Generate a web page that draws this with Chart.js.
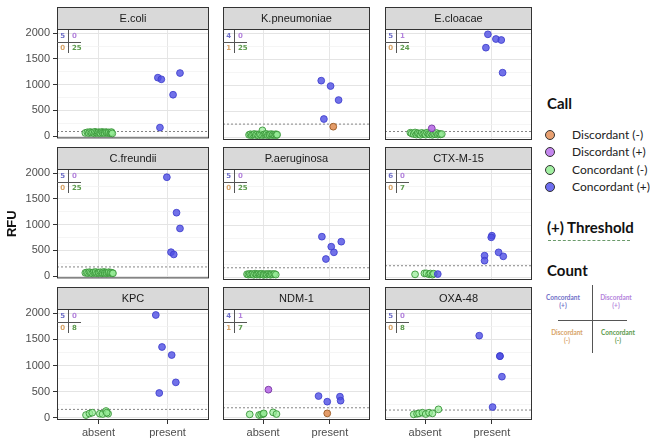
<!DOCTYPE html>
<html>
<head>
<meta charset="utf-8">
<script src="https://cdn.jsdelivr.net/npm/chart.js@4.4.1/dist/chart.umd.min.js"></script>
<style>
  body { margin: 0; background: #fff; }
  #wrap { position: relative; width: 650px; height: 445px; overflow: hidden; background: #fff; font-family: Lato, "Noto Sans", sans-serif; }
  #wrap canvas { position: absolute; }
  .lg { position: absolute; white-space: nowrap; }
  .lg-h { font-weight: bold; font-size: 15px; color: #111; line-height: 18px; }
  .lg-t { font-size: 12px; color: #222; line-height: 14px; }
  .dot { position: absolute; width: 8px; height: 8px; border-radius: 50%; border: 1px solid #333; }
  .cnt { position: absolute; font-size: 6.5px; font-weight: bold; text-align: center; line-height: 8px; width: 40px; }
</style>
</head>
<body>
<div id="wrap"></div>
<script>
// Facet panels, left to right, top to bottom
const panelNames = ['E.coli', 'K.pneumoniae', 'E.cloacae', 'C.freundii', 'P.aeruginosa', 'CTX-M-15', 'KPC', 'NDM-1', 'OXA-48'];
const callNames = ['Discordant (-)', 'Discordant (+)', 'Concordant (-)', 'Concordant (+)'];
const xLabels = ['absent', 'present'];
const yTicks = [0, 500, 1000, 1500, 2000];
const yMinor = [250, 750, 1250, 1750];
const thresholds = [90, 261, 120, 179, 190, 229, 160, 190, 147];

// count table per panel
const countConcPos = [5, 4, 5, 5, 5, 6, 5, 4, 5];
const countDiscPos = [0, 0, 1, 0, 0, 0, 0, 1, 0];
const countDiscNeg = [0, 1, 0, 0, 0, 0, 0, 1, 0];
const countConcNeg = [25, 25, 24, 25, 25, 7, 8, 7, 8];

// points: [x (1 = absent, 2 = present, jittered), RFU, call index]
const ptsEcoli = [
  [0.81,62,2],[0.84,75,2],[0.86,58,2],[0.88,80,2],[0.90,66,2],[0.92,72,2],[0.94,55,2],[0.95,84,2],[0.97,68,2],
  [0.99,61,2],[1.00,77,2],[1.02,70,2],[1.03,57,2],[1.05,82,2],[1.06,64,2],[1.08,73,2],[1.09,59,2],[1.11,79,2],
  [1.12,67,2],[1.14,60,2],[1.15,74,2],[1.17,56,2],[1.18,69,2],[1.19,78,2],[1.20,52,2],
  [1.86,1137,3],[1.91,1105,3],[2.18,1227,3],[2.08,805,3],[1.89,166,3]
];
const ptsKpneu = [
  [0.79,55,2],[0.81,66,2],[0.83,48,2],[0.85,60,2],[0.87,71,2],[0.89,52,2],[0.91,63,2],[0.93,45,2],[0.95,68,2],
  [0.97,57,2],[0.99,140,2],[1.00,50,2],[1.02,65,2],[1.04,58,2],[1.05,73,2],[1.07,47,2],[1.09,61,2],[1.10,54,2],
  [1.12,69,2],[1.14,50,2],[1.15,62,2],[1.17,56,2],[1.19,66,2],[1.20,49,2],[1.21,59,2],
  [1.87,1093,3],[2.01,990,3],[2.13,722,3],[1.91,358,3],
  [2.05,211,0]
];
const ptsEcloa = [
  [0.78,95,2],[0.80,82,2],[0.83,70,2],[0.85,100,2],[0.87,60,2],[0.89,88,2],[0.91,75,2],[0.93,55,2],[0.95,92,2],
  [0.97,66,2],[0.99,80,2],[1.01,58,2],[1.03,97,2],[1.05,72,2],[1.07,62,2],[1.09,85,2],[1.11,55,2],[1.13,78,2],
  [1.15,65,2],[1.17,90,2],[1.19,58,2],[1.21,74,2],[1.23,62,2],[1.25,70,2],
  [1.10,179,1],
  [1.94,1981,3],[2.06,1891,3],[2.14,1872,3],[1.91,1725,3],[2.16,1246,3]
];
const ptsCfreu = [
  [0.81,64,2],[0.83,72,2],[0.85,58,2],[0.87,78,2],[0.89,66,2],[0.91,55,2],[0.93,74,2],[0.95,62,2],[0.96,80,2],
  [0.98,57,2],[1.00,70,2],[1.01,63,2],[1.03,76,2],[1.05,54,2],[1.06,68,2],[1.08,81,2],[1.09,60,2],[1.11,72,2],
  [1.12,56,2],[1.14,66,2],[1.15,77,2],[1.17,59,2],[1.18,70,2],[1.20,62,2],[1.21,55,2],
  [1.99,1923,3],[2.13,1233,3],[2.18,927,3],[2.05,466,3],[2.09,422,3]
];
const ptsPaeru = [
  [0.76,66,2],[0.78,58,2],[0.80,74,2],[0.82,62,2],[0.84,70,2],[0.86,55,2],[0.88,78,2],[0.90,64,2],[0.91,60,2],
  [0.93,72,2],[0.95,57,2],[0.96,68,2],[0.98,75,2],[1.00,61,2],[1.01,54,2],[1.03,70,2],[1.05,63,2],[1.06,58,2],
  [1.08,74,2],[1.10,66,2],[1.11,56,2],[1.13,69,2],[1.15,62,2],[1.17,72,2],[1.19,59,2],
  [1.88,786,3],[2.17,690,3],[2.02,594,3],[2.06,486,3],[1.94,358,3]
];
const ptsCtx = [
  [0.85,64,2],[0.99,83,2],[1.02,83,2],[1.06,64,2],[1.08,80,2],[1.11,58,2],[1.13,77,2],
  [1.19,70,3],
  [2.00,805,3],[1.99,773,3],[2.10,486,3],[2.17,409,3],[1.89,422,3],[1.89,326,3]
];
const ptsKpc = [
  [0.82,51,2],[0.87,80,2],[0.91,96,2],[1.02,77,2],[1.06,70,2],[1.11,128,2],[1.14,77,2],[1.12,96,2],
  [1.83,1968,3],[1.92,1355,3],[2.06,1201,3],[2.12,677,3],[1.88,473,3]
];
const ptsNdm = [
  [0.80,64,2],[0.94,51,2],[0.97,60,2],[1.00,70,2],[1.01,83,2],[1.15,102,2],[1.20,70,2],
  [1.08,537,1],
  [1.83,415,3],[1.96,307,3],[2.15,403,3],[2.16,326,3],
  [1.96,83,0]
];
const ptsOxa = [
  [0.83,64,2],[0.88,75,2],[0.91,83,2],[0.96,96,2],[1.01,70,2],[1.06,96,2],[1.11,83,2],[1.20,160,2],
  [1.81,1572,3],[2.12,1182,3],[2.12,1178,3],[2.15,786,3],[2.01,204,3]
];
const panelPoints = [ptsEcoli, ptsKpneu, ptsEcloa, ptsCfreu, ptsPaeru, ptsCtx, ptsKpc, ptsNdm, ptsOxa];

// colours
const callFill = ['rgba(226,148,92,0.92)', 'rgba(184,108,230,0.9)', 'rgba(150,236,150,0.72)', 'rgba(78,78,228,0.8)'];
const callBorder = ['#a0622e', '#7e40a8', 'rgba(58,150,58,0.9)', 'rgba(62,62,205,0.85)'];
const legendFill = ['#e8a070', '#c486ee', '#a2f0a2', '#6e6ef0'];
const countColors = ['#7070c8', '#b484dc', '#d8a468', '#5c9a4c'];

// layout of the facet grid (page pixels)
const colLeft = [57, 218, 380];
const rowTop = [29, 169, 309];
const plotW = 155, plotH = 111, stripH = 22;
const axisFont = '"Liberation Sans", Arial, sans-serif';

const wrap = document.getElementById('wrap');

const panelDeco = {
  id: 'panelDeco',
  afterDraw(chart, args, opts) {
    const { ctx, chartArea: a } = chart;
    const i = opts.index;
    ctx.save();
    // strip
    ctx.fillStyle = '#d9d9d9';
    ctx.fillRect(a.left, a.top - stripH, a.right - a.left, stripH);
    ctx.strokeStyle = '#333';
    ctx.lineWidth = 1;
    ctx.strokeRect(a.left + 0.5, a.top - stripH + 0.5, a.right - a.left - 1, stripH);
    ctx.strokeRect(a.left + 0.5, a.top + 0.5, a.right - a.left - 1, a.bottom - a.top - 1);
    ctx.fillStyle = '#1a1a1a';
    ctx.font = '11px ' + axisFont;
    ctx.textAlign = 'center';
    ctx.textBaseline = 'middle';
    ctx.fillText(panelNames[i], (a.left + a.right) / 2, a.top - stripH / 2 + 1);
    // count table
    ctx.strokeStyle = '#555';
    ctx.beginPath();
    ctx.moveTo(a.left + 11.5, a.top + 1);
    ctx.lineTo(a.left + 11.5, a.top + 24);
    ctx.moveTo(a.left, a.top + 13.5);
    ctx.lineTo(a.left + 24, a.top + 13.5);
    ctx.stroke();
    ctx.font = 'bold 7px "DejaVu Sans", sans-serif';
    ctx.textAlign = 'right';
    ctx.fillStyle = countColors[0];
    ctx.fillText(countConcPos[i], a.left + 8, a.top + 7);
    ctx.fillStyle = countColors[2];
    ctx.fillText(countDiscNeg[i], a.left + 8, a.top + 19);
    ctx.textAlign = 'left';
    ctx.fillStyle = countColors[1];
    ctx.fillText(countDiscPos[i], a.left + 15, a.top + 7);
    ctx.fillStyle = countColors[3];
    ctx.fillText(countConcNeg[i], a.left + 15, a.top + 19);
    ctx.restore();
  }
};

function makePanel(i) {
  const r = Math.floor(i / 3), c = i % 3;
  const axisW = c === 0 ? colLeft[0] : 0;
  const bottomH = r === 2 ? 22 : 0;
  const padBottom = r === 2 ? 2 : 8;
  const w = axisW + plotW + 2;
  const h = 1 + stripH + plotH + bottomH + padBottom;
  const canvas = document.createElement('canvas');
  canvas.width = w;
  canvas.height = h;
  canvas.style.left = (c === 0 ? 0 : colLeft[c]) + 'px';
  canvas.style.top = (rowTop[r] - stripH - 1) + 'px';
  canvas.style.width = w + 'px';
  canvas.style.height = h + 'px';
  wrap.appendChild(canvas);

  const pts = panelPoints[i];
  const datasets = [{
    type: 'line',
    data: [{ x: 0.4, y: thresholds[i] }, { x: 2.6, y: thresholds[i] }],
    borderColor: '#777',
    borderWidth: 0.9,
    borderDash: [2, 2],
    pointRadius: 0,
    order: 10
  }];
  // green underneath, then discordant, blue on top
  const drawOrder = { 2: 4, 0: 3, 1: 2, 3: 1 };
  [2, 0, 1, 3].forEach(k => {
    datasets.push({
      label: callNames[k],
      data: pts.filter(p => p[2] === k).map(p => ({ x: p[0], y: p[1] })),
      backgroundColor: callFill[k],
      borderColor: callBorder[k],
      borderWidth: 1,
      pointRadius: 3.4,
      order: drawOrder[k]
    });
  });

  const isMajor = v => yTicks.includes(v);

  new Chart(canvas, {
    type: 'scatter',
    data: { datasets },
    options: {
      responsive: false,
      animation: false,
      events: [],
      devicePixelRatio: 1,
      layout: { padding: { top: stripH + 1, right: 2, bottom: padBottom, left: 0 } },
      plugins: {
        legend: { display: false },
        tooltip: { enabled: false },
        panelDeco: { index: i }
      },
      scales: {
        x: {
          type: 'linear',
          min: 0.4,
          max: 2.6,
          afterBuildTicks: s => { s.ticks = [{ value: 1 }, { value: 2 }]; },
          afterFit: s => { s.height = bottomH; },
          ticks: {
            display: r === 2,
            autoSkip: false,
            maxRotation: 0,
            padding: 2,
            color: '#4d4d4d',
            font: { family: axisFont, size: 11 },
            callback: v => xLabels[Math.round(v) - 1]
          },
          grid: { color: '#e6e6e6', lineWidth: 1, drawTicks: r === 2, tickLength: 4, tickColor: '#333' },
          border: { display: false }
        },
        y: {
          min: -44,
          max: 2083,
          afterBuildTicks: s => { s.ticks = yTicks.concat(yMinor).sort((a, b) => a - b).map(v => ({ value: v })); },
          afterFit: s => { s.width = axisW; },
          ticks: {
            display: c === 0,
            autoSkip: false,
            padding: 3,
            color: '#4d4d4d',
            font: { family: axisFont, size: 11 },
            callback: v => isMajor(v) ? String(v) : ''
          },
          grid: {
            color: ctx => ctx.tick && isMajor(ctx.tick.value) ? '#e4e4e4' : '#f1f1f1',
            lineWidth: ctx => ctx.tick && isMajor(ctx.tick.value) ? 1 : 0.7,
            drawTicks: c === 0,
            tickLength: 4,
            tickColor: ctx => ctx.tick && isMajor(ctx.tick.value) ? '#333' : 'rgba(0,0,0,0)'
          },
          border: { display: false },
          title: {
            display: i === 3,
            text: 'RFU',
            color: '#111',
            font: { family: axisFont, size: 13, weight: 'bold' },
            padding: { top: 5, bottom: 0 }
          }
        }
      }
    },
    plugins: [panelDeco]
  });
}

for (let i = 0; i < panelNames.length; i++) makePanel(i);

// legend (right side)
function addEl(cls, style, text) {
  const d = document.createElement('div');
  d.className = cls;
  Object.assign(d.style, style);
  if (text !== undefined) d.textContent = text;
  wrap.appendChild(d);
  return d;
}
addEl('lg lg-h', { left: '547px', top: '94px' }, 'Call');
const legendY = [135, 152, 170, 187];
callNames.forEach((name, k) => {
  addEl('dot', { left: '545px', top: (legendY[k] - 5) + 'px', background: legendFill[k] });
  addEl('lg lg-t', { left: '572px', top: (legendY[k] - 7) + 'px' }, name);
});
addEl('lg lg-h', { left: '547px', top: '218px' }, '(+) Threshold');
addEl('lg', { left: '548px', top: '240px', width: '82px', height: '0', borderTop: '1px dashed #6a9a6a' });
addEl('lg lg-h', { left: '547px', top: '261px' }, 'Count');
addEl('lg', { left: '592px', top: '285px', width: '1px', height: '68px', background: '#555' });
addEl('lg', { left: '558px', top: '320px', width: '69px', height: '1px', background: '#555' });
addEl('cnt', { left: '543px', top: '294px', color: countColors[0] }).innerHTML = 'Concordant<br>(+)';
addEl('cnt', { left: '596px', top: '294px', color: countColors[1] }).innerHTML = 'Discordant<br>(+)';
addEl('cnt', { left: '547px', top: '329px', color: countColors[2] }).innerHTML = 'Discordant<br>(-)';
addEl('cnt', { left: '598px', top: '329px', color: countColors[3] }).innerHTML = 'Concordant<br>(-)';
</script>
</body>
</html>
